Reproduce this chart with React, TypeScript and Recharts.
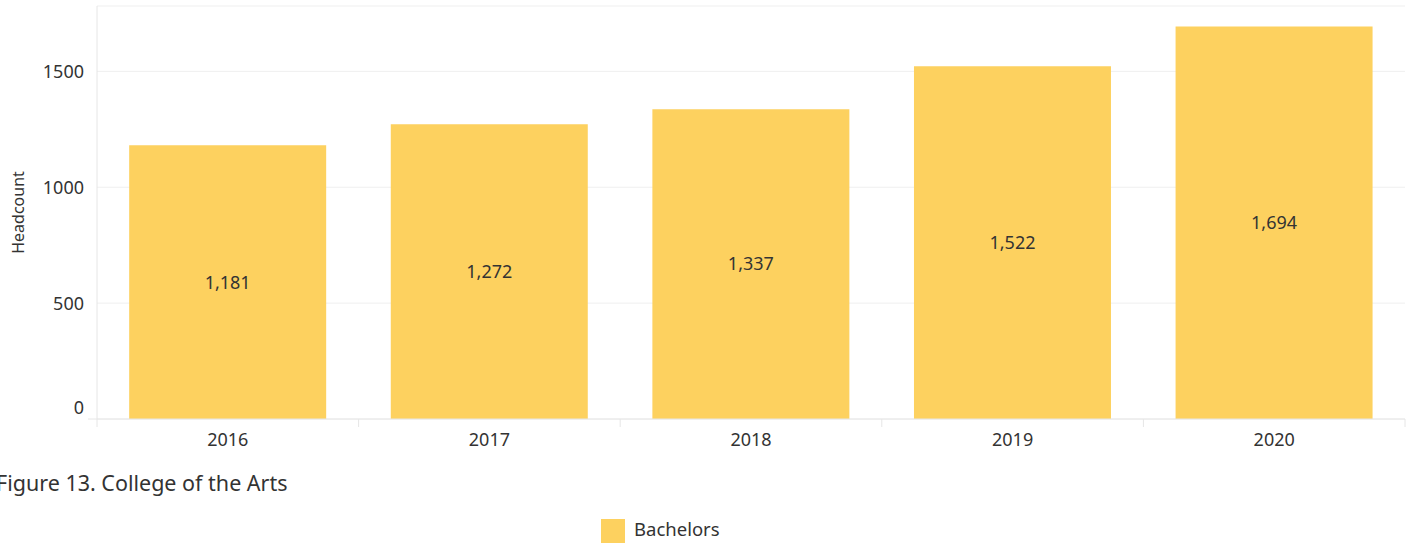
import React from "react";
import { BarChart, Bar, XAxis, YAxis, CartesianGrid, LabelList, Legend } from "recharts";

const years = ["2016", "2017", "2018", "2019", "2020"];
const bachelors = [1181, 1272, 1337, 1522, 1694];
const yTicks = [0, 500, 1000, 1500];
const seriesName = "Bachelors";
const caption = "Figure 13. College of the Arts";
const yLabel = "Headcount";

const data = years.map((y, i) => ({ year: y, Bachelors: bachelors[i] }));

const FONT = "'Noto Sans', sans-serif";
const TEXT = "#333333";
const LINE = "#e6e6e6";
const BAR = "#FDD15F";

const XTick = (props: any) => {
  const { x, y, payload, index } = props;
  const off = payload && typeof payload.offset === "number" ? payload.offset : 130.5;
  return (
    <g>
      <line x1={x - off} x2={x - off} y1={y} y2={y + 8} stroke={LINE} />
      {index === years.length - 1 && <line x1={x + off} x2={x + off} y1={y} y2={y + 8} stroke={LINE} />}
      <text x={x} y={y + 27} textAnchor="middle" fontFamily={FONT} fontSize={18} fill={TEXT}>
        {payload.value}
      </text>
    </g>
  );
};

const YTick = (props: any) => {
  const { x, y, payload } = props;
  const isZero = payload.value === 0;
  return (
    <g>
      {isZero && <line x1={x + 4} x2={x + 13} y1={y} y2={y} stroke={LINE} />}
      <text x={x} y={isZero ? y - 11 : y} dy="0.36em" textAnchor="end" fontFamily={FONT} fontSize={18} fill={TEXT}>
        {payload.value}
      </text>
    </g>
  );
};

const YTitle = (props: any) => {
  const vb = props.viewBox || { x: 0, y: 6, width: 97, height: 413 };
  const cx = vb.x + 18;
  const cy = vb.y + vb.height / 2;
  return (
    <text
      x={cx}
      y={cy}
      transform={`rotate(-90 ${cx} ${cy})`}
      textAnchor="middle"
      dominantBaseline="central"
      fontFamily={FONT}
      fontSize={16}
      fill={TEXT}
    >
      {yLabel}
    </text>
  );
};

export default function App() {
  return (
    <div style={{ position: "absolute", left: 0, top: 0, width: 1411, height: 543, background: "#fff", fontFamily: FONT }}>
      <BarChart
        width={1411}
        height={543}
        data={data}
        margin={{ top: 6, right: 6, left: 0, bottom: 94 }}
        barCategoryGap="12.3%"
      >
        <CartesianGrid vertical={false} stroke="#efefef" />
        <XAxis
          dataKey="year"
          tickLine={false}
          tickSize={0}
          tickMargin={0}
          axisLine={{ stroke: LINE }}
          tick={<XTick />}
          height={30}
          interval={0}
        />
        <YAxis
          width={97}
          domain={[0, 1782]}
          ticks={yTicks}
          tickLine={false}
          tickSize={0}
          tickMargin={13}
          axisLine={{ stroke: LINE }}
          tick={<YTick />}
          label={<YTitle />}
        />
        <Legend
          layout="horizontal"
          verticalAlign="middle"
          align="center"
          iconType="square"
          iconSize={24}
          wrapperStyle={{ left: 601, top: 516, width: "auto", fontFamily: FONT, fontSize: 18.5 }}
          formatter={(v: string) => <span style={{ color: TEXT, marginLeft: 5 }}>{v}</span>}
        />
        <Bar dataKey="Bachelors" name={seriesName} fill={BAR} isAnimationActive={false}>
          <LabelList
            dataKey="Bachelors"
            position="center"
            formatter={(v: any) => Number(v).toLocaleString("en-US")}
            style={{ fontFamily: FONT, fontSize: 18, fill: TEXT }}
          />
        </Bar>
      </BarChart>
      <div
        style={{
          position: "absolute",
          left: -4,
          top: 468,
          fontFamily: FONT,
          fontSize: 21.5,
          color: TEXT,
          whiteSpace: "nowrap",
        }}
      >
        {caption}
      </div>
    </div>
  );
}
